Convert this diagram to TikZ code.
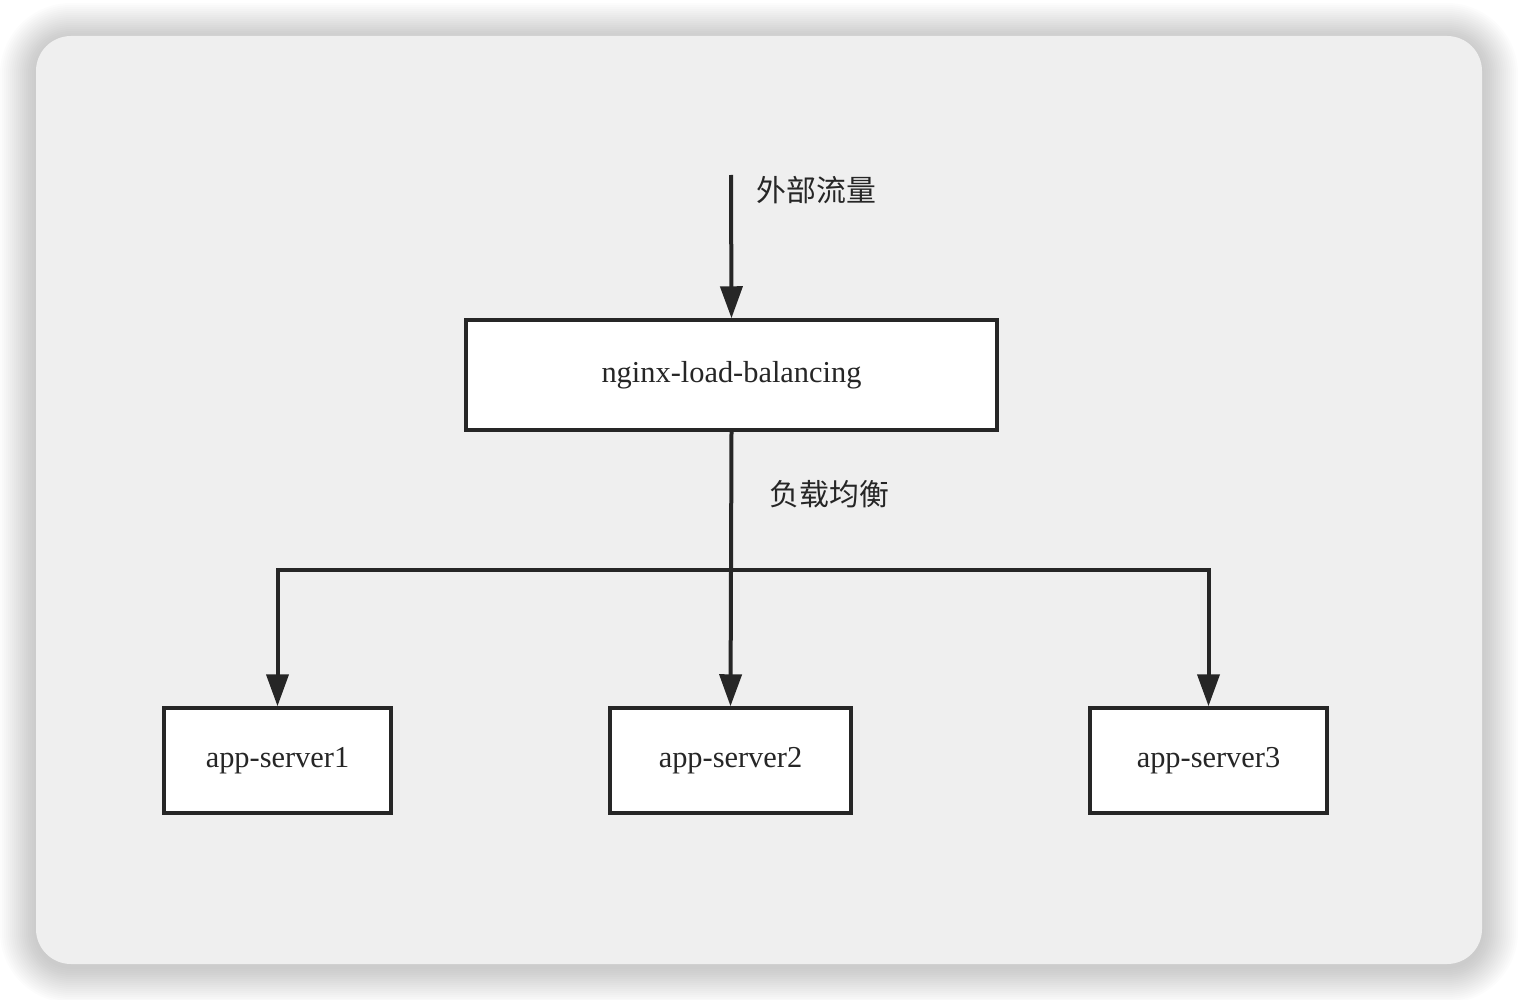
\documentclass[tikz,border=0pt]{standalone}
\usepackage{fontspec}
\setmainfont{Liberation Serif}
\newfontfamily\cjk{Noto Sans CJK SC}
\usetikzlibrary{positioning, arrows.meta}

\definecolor{ink}{HTML}{262626}
\definecolor{panel}{HTML}{EFEFEF}

\begin{document}
\begin{tikzpicture}[x=0.02cm, y=-0.02cm, line width=0.08cm, draw=ink,
    >={Triangle[width=0.44cm, length=0.64cm]},
    box/.style={draw=ink, fill=white, line width=0.07cm, minimum height=2.1cm,
      text=ink, font=\fontsize{17.3pt}{20pt}\selectfont},
    note/.style={text=ink, font=\cjk\fontsize{17pt}{20pt}\selectfont}]
   \useasboundingbox (0,0) rectangle (1518,1000);

   % Panel with soft shadow
   \foreach \i in {1,...,18}
     \fill[black, opacity=0.012, rounded corners=0.7cm+\i*0.04cm]
       (36-2*\i,39-2*\i) rectangle (1482+2*\i,967+2*\i);
   \fill[panel, rounded corners=0.7cm] (36,36) rectangle (1482,964);

   % Load balancer
   \node[box, minimum width=10.62cm, minimum height=2.2cm] (lb) at (731.5,375) {nginx-load-balancing};
   \coordinate (src) at (731,175);
   \node[note, anchor=west] (traffic) at (749,190) {外部流量};

   % Servers
   \node[box, minimum width=4.54cm] (s1) at (277.5,760.5) {app-server1};
   \node[box, minimum width=4.82cm] (s2) at (730.5,760.5) {app-server2};
   \node[box, minimum width=4.74cm] (s3) at (1208.5,760.5) {app-server3};

   \coordinate (split) at (731,570);
   \node[note, anchor=west] (balance) at (762,494) {负载均衡};

   % Connections
   \draw[->] (src) -- (lb.north);
   \draw (lb.south) -- (split);
   \draw[->] (split) -| (s1.north);
   \draw[->] (split) -- (s2.north);
   \draw[->] (split) -| (s3.north);
\end{tikzpicture}
\end{document}
